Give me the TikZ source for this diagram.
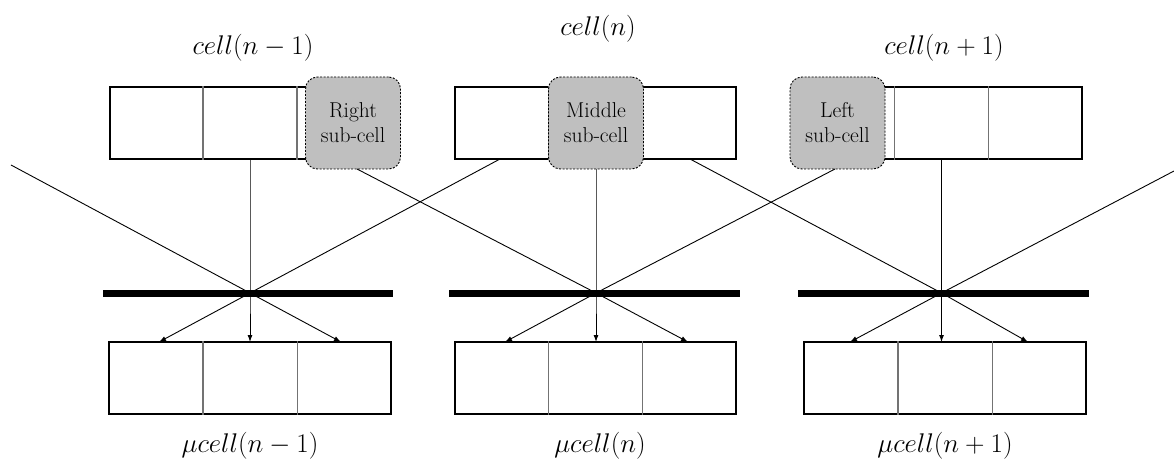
\RequirePackage{fix-cm}
\documentclass[tikz,border=0pt]{standalone}
\usetikzlibrary{arrows.meta,calc}
\begin{document}
\begin{tikzpicture}[x=1pt,y=-1pt,
  cellbox/.style={draw, line width=1.2pt, minimum height=72pt, inner sep=0pt},
  divider/.style={draw=black!55, line width=1.4pt},
  subcell/.style={draw, dash pattern=on 2pt off 1.5pt, line width=0.9pt, fill=gray!50,
    rounded corners=12pt, minimum width=95pt, minimum height=92pt, inner sep=0pt,
    align=center, font=\fontsize{21.5}{25}\selectfont},
  bar/.style={fill=black, minimum height=7pt, inner sep=0pt},
  ray/.style={line width=0.9pt, -{Latex[length=7pt,width=5pt]}},
  lbl/.style={font=\fontsize{27}{30}\selectfont, inner sep=0pt}]
\useasboundingbox (0,0) rectangle (1174,462);

% top cells
\node[cellbox, minimum width=280pt] (T1) at (250,123) {};
\node[cellbox, minimum width=281pt] (T2) at (595.5,123) {};
\node[cellbox, minimum width=281pt] (T3) at (941.5,123) {};
\foreach \b in {T1,T2,T3}{
  \draw[divider] ($(\b.north west)!1/3!(\b.north east)$) -- ($(\b.south west)!1/3!(\b.south east)$);
  \draw[divider] ($(\b.north west)!2/3!(\b.north east)$) -- ($(\b.south west)!2/3!(\b.south east)$);
}
\node[subcell] (G1) at (353,123) {Right\\sub-cell};
\node[subcell] (G2) at (596,123) {Middle\\sub-cell};
\node[subcell] (G3) at (837.5,123) {Left\\sub-cell};

% labels top
\node[lbl] (c1) at (253,48) {$cell\bigl(n-1\bigr)$};
\node[lbl] (c2) at (598,29) {$cell\bigl(n\bigr)$};
\node[lbl] (c3) at (944,48) {$cell\bigl(n+1\bigr)$};

% bars
\node[bar, minimum width=290pt] (B1) at (248,293) {};
\node[bar, minimum width=291pt] (B2) at (594.5,293) {};
\node[bar, minimum width=291pt] (B3) at (943.5,293) {};
\coordinate (F1) at (250,293);
\coordinate (F2) at (596,293);
\coordinate (F3) at (941.5,293);

% bottom cells
\node[cellbox, minimum width=282pt] (L1) at (250,378) {};
\node[cellbox, minimum width=281pt] (L2) at (595.5,378) {};
\node[cellbox, minimum width=282pt] (L3) at (945,378) {};
\foreach \b in {L1,L2,L3}{
  \draw[divider] ($(\b.north west)!1/3!(\b.north east)$) -- ($(\b.south west)!1/3!(\b.south east)$);
  \draw[divider] ($(\b.north west)!2/3!(\b.north east)$) -- ($(\b.south west)!2/3!(\b.south east)$);
}
\node[lbl] (m1) at (250,446) {$\mu cell\bigl(n-1\bigr)$};
\node[lbl] (m2) at (600,446) {$\mu cell\bigl(n\bigr)$};
\node[lbl] (m3) at (945,446) {$\mu cell\bigl(n+1\bigr)$};

% sources
\coordinate (sL) at (11,165);
\coordinate (sR) at (1174,171);
\coordinate (s11) at (T1.south);
\coordinate (s21) at (500,159);
\coordinate (s22) at (690,159);
\coordinate (s31) at (T3.south);
\coordinate (g1) at (357,169);
\coordinate (g2) at (G2.south);
\coordinate (g3) at (835,169);

% targets
\coordinate (a11) at (159,342);
\coordinate (a12) at (250,342);
\coordinate (a13) at (341,342);
\coordinate (a21) at (505,342);
\coordinate (a22) at (596,342);
\coordinate (a23) at (688,342);
\coordinate (a31) at (850,342);
\coordinate (a32) at (941.5,342);
\coordinate (a33) at (1028,342);

\draw[ray] (sL) -- (F1) -- (a13);
\draw[ray] (s11) -- (F1) -- (a12);
\draw[ray] (s21) -- (F1) -- (a11);
\draw[ray] (g1) -- (F2) -- (a23);
\draw[ray] (g2) -- (F2) -- (a22);
\draw[ray] (g3) -- (F2) -- (a21);
\draw[ray] (s22) -- (F3) -- (a33);
\draw[ray] (s31) -- (F3) -- (a32);
\draw[ray] (sR) -- (F3) -- (a31);
\end{tikzpicture}
\end{document}
